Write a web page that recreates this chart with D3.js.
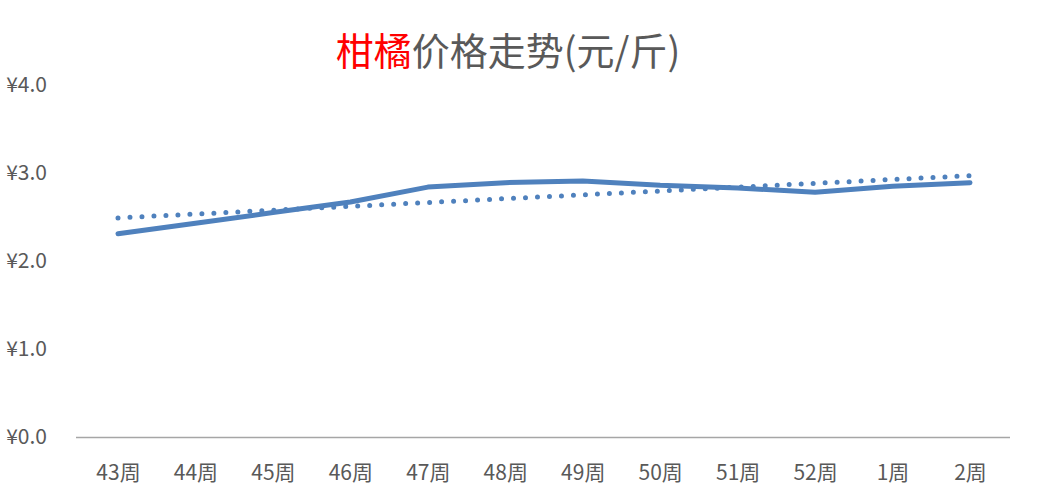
<!DOCTYPE html>
<html><head><meta charset="utf-8">
<script src="https://cdn.jsdelivr.net/npm/d3@7"></script>
<style>body{margin:0;background:#fff}</style>
</head><body>
<svg id="c" width="1037" height="499"></svg>
<script>
const categories = ["43周","44周","45周","46周","47周","48周","49周","50周","51周","52周","1周","2周"];
const prices = [2.31, 2.43, 2.55, 2.67, 2.84, 2.89, 2.91, 2.86, 2.83, 2.78, 2.85, 2.89];
const trendCats = ["43周", "2周"];
const trendVals = [2.49, 2.97];
const yTicks = [0, 1, 2, 3, 4];

const svg = d3.select("#c");
const font = "'Noto Sans CJK SC','Noto Sans',sans-serif";
const x = d3.scalePoint().domain(categories).range([118, 970]);
const y = d3.scaleLinear().domain([0, 4]).range([437, 85]);

// title
const t = svg.append("text").attr("x", 508).attr("y", 65).attr("text-anchor", "middle")
  .style("font-family", font).style("font-size", "38px").attr("fill", "#595959");
t.append("tspan").attr("fill", "#ff0000").text("柑橘");
t.append("tspan").text("价格走势(元/斤)");

// y axis labels
const yAxis = d3.axisLeft(y).tickValues(yTicks).tickSize(0).tickFormat(d => "¥" + d3.format(".1f")(d));
const gy = svg.append("g").attr("transform", "translate(47,0)").call(yAxis);
gy.select(".domain").remove();
gy.selectAll("text").style("font-family", font).style("font-size", "21px").attr("fill", "#595959").attr("text-anchor", "end").attr("x", 0);

// x axis
const xAxis = d3.axisBottom(x).tickSize(0);
const gx = svg.append("g").attr("transform", "translate(0,437)").call(xAxis);
gx.select(".domain").remove();
gx.selectAll("text").style("font-family", font).style("font-size", "21px").attr("fill", "#595959").attr("dy", "0").attr("y", 43);
svg.append("line").attr("x1", 76).attr("x2", 1010).attr("y1", 437.5).attr("y2", 437.5)
  .attr("stroke", "#a6a6a6").attr("stroke-width", 1.5);

// series line
const line = d3.line().x((d, i) => x(categories[i])).y(d => y(d));
svg.append("path").datum(prices).attr("d", line).attr("fill", "none")
  .attr("stroke", "#4f81bd").attr("stroke-width", 5).attr("stroke-linecap", "round").attr("stroke-linejoin", "round");

// trendline (dotted)
const tline = d3.line().x((d, i) => x(trendCats[i])).y(d => y(d));
svg.append("path").datum(trendVals).attr("d", tline).attr("fill", "none")
  .attr("stroke", "#4f81bd").attr("stroke-width", 5).attr("stroke-linecap", "round")
  .attr("stroke-dasharray", "0 12");
</script>
</body></html>
